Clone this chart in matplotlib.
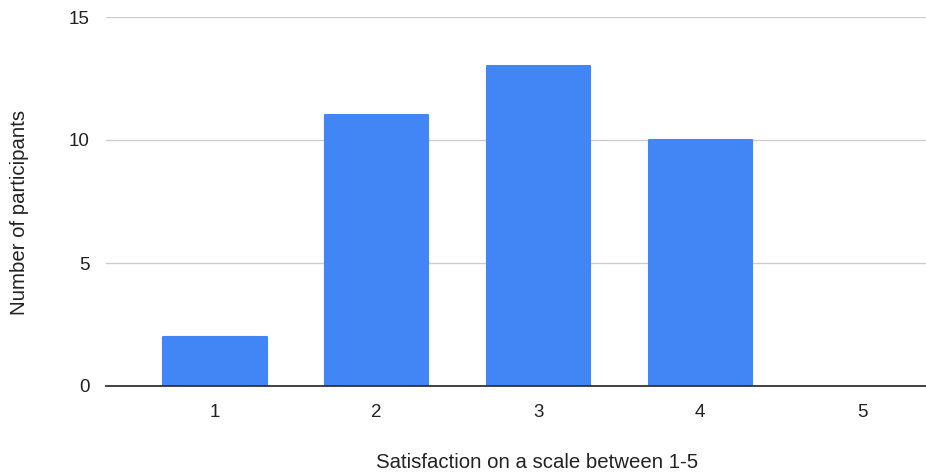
import matplotlib.pyplot as plt

plt.rcParams['font.family'] = ['Liberation Sans', 'DejaVu Sans']

categories = ['1', '2', '3', '4', '5']
participants = [2, 11, 13, 10, 0]
yticks = [0, 5, 10, 15]

fig = plt.figure(figsize=(9.26, 4.74), dpi=100)
ax = fig.add_axes([106/926, 1 - 386/474, 1 - 106/926, (386 - 17)/474])

x = range(len(categories))
ax.bar(x, participants, width=0.64, color='#4285F4', edgecolor='#4285F4',
       linewidth=[1.5 if v else 0 for v in participants], joinstyle='round', zorder=3)

ax.set_xlim(-0.673, 4.395)
ax.set_ylim(0, 15)
ax.set_xticks(list(x))
ax.set_xticklabels(categories)
ax.set_yticks(yticks)

ax.grid(axis='y', color='#cccccc', linewidth=1)
ax.set_axisbelow(True)
for s in ['top', 'right', 'left']:
    ax.spines[s].set_visible(False)
ax.spines['bottom'].set_color('#333333')
ax.spines['bottom'].set_linewidth(1.3)
ax.spines['bottom'].set_zorder(4)

ax.tick_params(axis='both', length=0, labelsize=13.5, colors='#222222')
ax.tick_params(axis='y', pad=12)
ax.tick_params(axis='x', pad=13)

fig.text(537/926, 1 - 462/474, 'Satisfaction on a scale between 1-5', fontsize=14.7,
         color='#222222', ha='center', va='center')
fig.text(20/926, 1 - 212/474, 'Number of participants', fontsize=14.7,
         color='#222222', ha='center', va='center', rotation=90)

fig.savefig('out.png', dpi=100)
